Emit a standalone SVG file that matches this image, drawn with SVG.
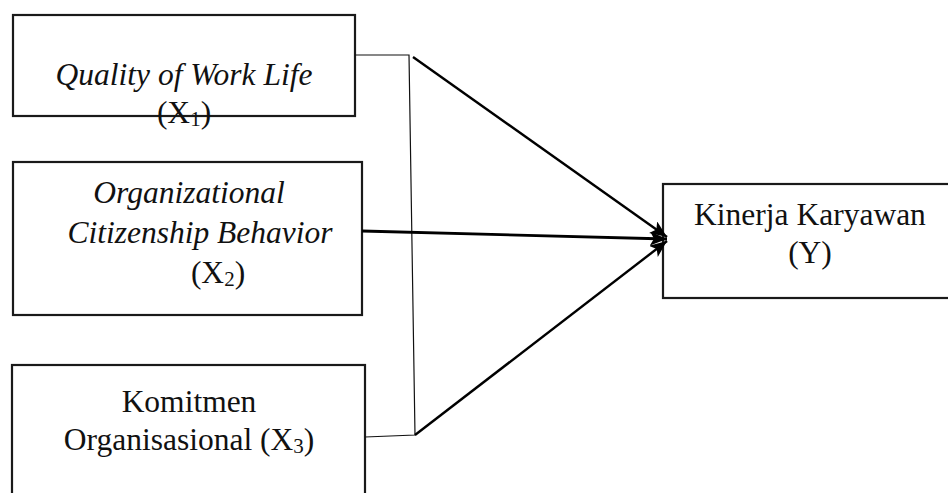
<svg xmlns="http://www.w3.org/2000/svg" width="948" height="493" viewBox="0 0 948 493">
<style>
.box{fill:#fff;stroke:#1a1a1a;stroke-width:2.2}
.t{font-family:"Liberation Serif","Times New Roman",serif;font-size:31.5px;fill:#111;text-anchor:middle}
.i{font-style:italic}
.sub{font-size:21px}
.thin{fill:none;stroke:#111;stroke-width:1.2}
.arr{fill:none;stroke:#000;stroke-width:2.4;marker-end:url(#ah)}
</style>
<defs>
<marker id="ah" markerUnits="userSpaceOnUse" markerWidth="20" markerHeight="16" refX="17" refY="7" orient="auto">
<path d="M0,0 L17,7 L0,14 L4,7 z" fill="#000"/>
</marker>
</defs>
<g id="node-x1">
<rect class="box" x="13" y="15" width="342" height="101"/>
<text class="t i" x="184" y="85">Quality of Work Life</text>
<text class="t" x="184" y="123">(X<tspan class="sub" dy="3">1</tspan><tspan dy="-3">)</tspan></text>
</g>
<g id="node-x2">
<rect class="box" x="13" y="162" width="349" height="153"/>
<text class="t i" x="189" y="203">Organizational</text>
<text class="t i" x="200" y="243">Citizenship Behavior</text>
<text class="t" x="218" y="283">(X<tspan class="sub" dy="3">2</tspan><tspan dy="-3">)</tspan></text>
</g>
<g id="node-x3">
<rect class="box" x="12" y="365" width="353" height="140"/>
<text class="t" x="189" y="412">Komitmen</text>
<text class="t" x="189" y="450">Organisasional (X<tspan class="sub" dy="3">3</tspan><tspan dy="-3">)</tspan></text>
</g>
<g id="node-y">
<rect class="box" x="663" y="184" width="300" height="114"/>
<text class="t" x="810" y="225">Kinerja Karyawan</text>
<text class="t" x="810" y="263">(Y)</text>
</g>
<g id="connectors">
<polyline class="thin" points="355,55 409,55 415,435 365,437"/>
<line class="arr" x1="413" y1="57" x2="667" y2="237"/>
<line class="arr" x1="362" y1="231" x2="667" y2="239" style="stroke-width:2.8"/>
<line class="arr" x1="415" y1="435" x2="667" y2="241"/>
</g>
</svg>
